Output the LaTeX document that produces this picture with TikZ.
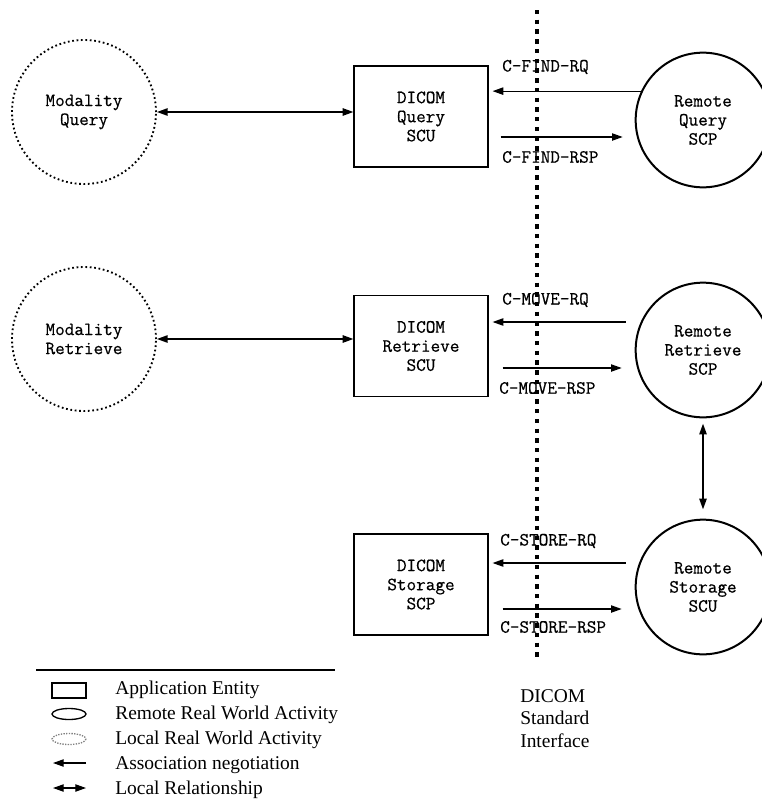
\documentclass[tikz,border=0pt]{standalone}
\usepackage{fontspec}
\setmainfont{Liberation Serif}
\newfontfamily\codefont{Latin Modern Mono}[FakeBold=0.6]
\usetikzlibrary{arrows.meta,calc}

\tikzset{>={Triangle[length=8pt,width=5.5pt]}}

\begin{document}
\begin{tikzpicture}[x=0.75pt,y=-0.75pt,
    localact/.style={circle,draw,line width=1.4pt,dash pattern=on 1.3pt off 2pt,
      minimum size=108pt,align=center,font=\codefont\fontsize{14}{14.3}\selectfont},
    remoteact/.style={circle,draw,line width=1.5pt,minimum size=101pt,align=center,
      font=\codefont\fontsize{14}{14.3}\selectfont},
    appent/.style={rectangle,draw,line width=0.9pt,minimum width=100.5pt,
      minimum height=75.75pt,align=center,font=\codefont\fontsize{14}{14.3}\selectfont},
    msg/.style={->,line width=0.9pt,shorten >=3pt},
    rel/.style={<->,line width=1.1pt},
    lbl/.style={anchor=west,inner sep=0pt,font=\codefont\fontsize{14}{14.3}\selectfont},
    legtext/.style={anchor=base west,inner sep=0pt,font=\fontsize{14.6}{17}\selectfont}]
    \useasboundingbox (0,0) rectangle (762,810);

    % local activities
    \node[localact] (mq) at (84,112) {Modality\\Query};
    \node[localact] (mr) at (84,339) {Modality\\Retrieve};

    % application entities
    \node[appent] (qscu) at (421,116.5) {DICOM\\Query\\SCU};
    \node[appent] (rscu) at (421,346) {DICOM\\Retrieve\\SCU};
    \node[appent] (sscp) at (421,584.5) {DICOM\\Storage\\SCP};

    % remote activities
    \node[remoteact] (qscp) at (703,120) {Remote\\Query\\SCP};
    \node[remoteact] (rscp) at (703,350) {Remote\\Retrieve\\SCP};
    \node[remoteact] (sscu) at (703,587) {Remote\\Storage\\SCU};

    % interface line
    \coordinate (itop) at (537,10);
    \coordinate (ibot) at (537,657);
    \draw[line width=2.4pt,dash pattern=on 3.3pt off 4pt] (itop) -- (ibot);
    \node[anchor=north west,inner sep=0pt,align=left,font=\fontsize{14.6}{17}\selectfont]
      (iface) at (520,689) {DICOM\\Standard\\Interface};

    \draw[rel] (mq.east) -- (qscu.west |- mq.east);
    \draw[rel] (mr.east) -- (rscu.west |- mr.east);
    \draw[rel,shorten <=4pt,shorten >=7pt] (rscp.south) -- (sscu.north);

    % query
    \draw[msg] (qscp.155) -- (qscu.east |- qscp.155);
    \draw[msg] ($(qscu.east)+(12,20.5)$) -- ($(qscp.west)+(-8,17)$);
    \node[lbl] (findrq) at (502,67) {C-FIND-RQ};
    \node[lbl] (findrsp) at (502,157) {C-FIND-RSP};

    % retrieve
    \draw[msg] ($(rscp.west)+(-9,-28)$) -- ($(rscu.east)+(0,-24)$);
    \draw[msg] ($(rscu.east)+(14,22)$) -- ($(rscp.west)+(-9,18)$);
    \node[lbl] (moverq) at (502,300) {C-MOVE-RQ};
    \node[lbl] (moversp) at (499,388) {C-MOVE-RSP};

    % storage
    \draw[msg] ($(sscu.west)+(-9,-24)$) -- ($(sscp.east)+(0,-21.5)$);
    \draw[msg] ($(sscp.east)+(14,24.5)$) -- ($(sscu.west)+(-9,22)$);
    \node[lbl] (storerq) at (500,541) {C-STORE-RQ};
    \node[lbl] (storersp) at (500,627) {C-STORE-RSP};

    % legend
    \draw[line width=0.8pt] (36,670) -- (335,670);
    \draw[line width=0.8pt] (52,683) rectangle (86,698);
    \draw[line width=1pt] (69,714) ellipse [x radius=17,y radius=5.5];
    \draw[gray,line width=1pt,dash pattern=on 1pt off 1pt] (69,739) ellipse [x radius=17,y radius=5.5];
    \draw[->,line width=0.9pt] (86,763) -- (53,763);
    \draw[<->,line width=0.9pt] (53,788) -- (86,788);
    \node[legtext] (lae) at (115,694) {Application Entity};
    \node[legtext] (lrr) at (115,719.5) {Remote Real World Activity};
    \node[legtext] (llr) at (115,744.5) {Local Real World Activity};
    \node[legtext] (lan) at (115,769.5) {Association negotiation};
    \node[legtext] (llrel) at (115,794.5) {Local Relationship};
  \end{tikzpicture}
\end{document}
